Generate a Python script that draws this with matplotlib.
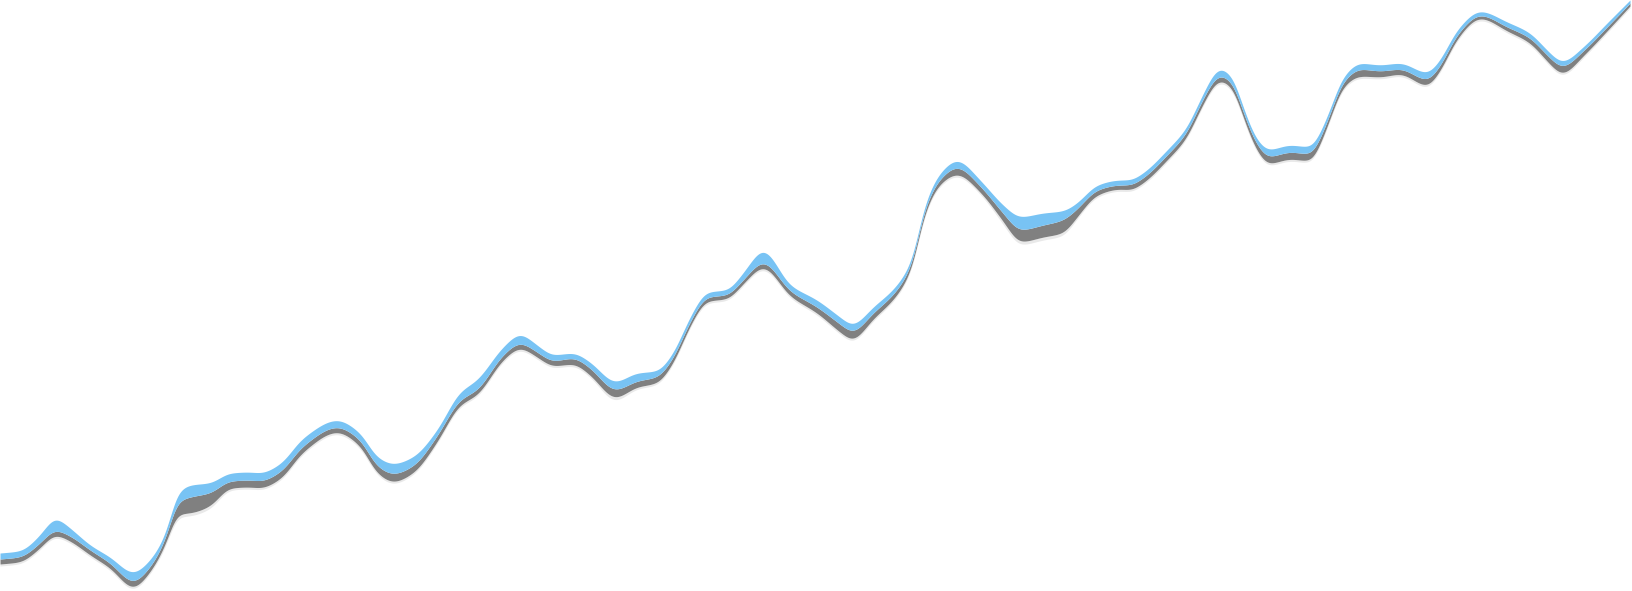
import numpy as np
import matplotlib
matplotlib.use("Agg")
import matplotlib.pyplot as plt

# Sample positions along the horizontal axis
x_pos = [0, 20, 40, 55, 70, 90, 110, 133, 150, 167, 177, 190, 210, 230, 250, 260, 280,
         303, 337, 360, 377, 393, 413, 437, 460, 477, 503, 520, 537, 553, 573, 590, 615,
         637, 657, 673, 690, 707, 727, 743, 763, 790, 817, 840, 852, 873, 897, 913, 923,
         940, 957, 980, 1003, 1020, 1043, 1063, 1077, 1097, 1120, 1130, 1143, 1167, 1187,
         1200, 1220, 1233, 1243, 1257, 1268, 1290, 1310, 1327, 1343, 1360, 1380, 1400,
         1427, 1440, 1457, 1480, 1507, 1530, 1547, 1562, 1583, 1607, 1630]

# Total (top of the stack) value at each position
total = [38, 40, 56, 73, 63, 46, 34, 18, 31, 61, 98, 106, 108, 118, 119, 118, 127,
         153, 171, 158, 134, 127, 134, 161, 199, 211, 244, 257, 246, 236, 238, 229, 209,
         218, 220, 238, 274, 299, 301, 318, 341, 306, 291, 274, 266, 284, 306, 334, 381,
         418, 431, 411, 386, 374, 378, 380, 388, 406, 411, 411, 418, 441, 464,
         491, 523, 513, 484, 451, 441, 446, 444, 474, 514, 528, 526, 528,
         518, 531, 561, 580, 569, 558, 541, 529, 544, 568, 591]

# Layer values (top to bottom): blue, grey, light grey
blue = [6, 6, 8, 12, 8, 5, 6, 9, 7, 5, 9, 12, 10, 8, 8, 8, 8,
        8, 7, 7, 9, 10, 9, 6, 8, 10, 8, 9, 7, 6, 5, 6, 8,
        8, 6, 5, 5, 5, 5, 7, 12, 6, 7, 7, 7, 6, 5, 4, 4,
        6, 7, 6, 8, 13, 12, 9, 6, 5, 5, 5, 5, 5, 5,
        5, 7, 6, 5, 5, 7, 7, 7, 5, 5, 6, 6, 6,
        7, 6, 5, 4, 5, 5, 5, 5, 4, 4, 3]
grey = [5, 5, 5, 5, 5, 5, 5, 6, 5, 6, 12, 16, 13, 7, 7, 7, 7,
        6, 5, 6, 7, 8, 7, 6, 5, 5, 5, 5, 5, 5, 6, 7, 8,
        6, 6, 5, 4, 4, 4, 4, 5, 5, 6, 8, 8, 6, 5, 4, 4,
        5, 7, 6, 8, 12, 12, 13, 8, 5, 4, 5, 5, 5, 5,
        5, 5, 5, 5, 6, 7, 7, 7, 5, 5, 7, 6, 5,
        6, 5, 4, 3, 4, 5, 6, 7, 5, 4, 3]
light = [2, 2, 2, 2, 2, 2, 2, 2, 2, 3, 3, 3, 3, 2, 2, 2, 2,
         2, 2, 2, 2, 2, 2, 2, 2, 2, 2, 2, 2, 2, 2, 2, 3,
         2, 2, 2, 2, 2, 2, 2, 2, 2, 2, 2, 2, 2, 2, 2, 2,
         2, 2, 2, 3, 3, 3, 3, 2, 2, 2, 2, 2, 2, 2,
         2, 2, 2, 2, 2, 2, 2, 2, 2, 2, 2, 2, 2,
         2, 2, 2, 2, 2, 2, 2, 2, 2, 2, 2]

colors = ["#e9e9e9", "#808080", "#78c3f4"]


def monotone(xs, ys, xq):
    xs = np.asarray(xs, float)
    ys = np.asarray(ys, float)
    h = np.diff(xs)
    d = np.diff(ys) / h
    m = np.zeros_like(ys)
    m[0], m[-1] = d[0], d[-1]
    for i in range(1, len(ys) - 1):
        if d[i - 1] * d[i] <= 0:
            m[i] = 0.0
        else:
            w1 = 2 * h[i] + h[i - 1]
            w2 = h[i] + 2 * h[i - 1]
            m[i] = (w1 + w2) / (w1 / d[i - 1] + w2 / d[i])
    idx = np.clip(np.searchsorted(xs, xq) - 1, 0, len(xs) - 2)
    t = (xq - xs[idx]) / h[idx]
    h00 = 2 * t**3 - 3 * t**2 + 1
    h10 = t**3 - 2 * t**2 + t
    h01 = -2 * t**3 + 3 * t**2
    h11 = t**3 - t**2
    return (h00 * ys[idx] + h10 * h[idx] * m[idx] + h01 * ys[idx + 1]
            + h11 * h[idx] * m[idx + 1])


def soften(y, sigma_px):
    # light rendering smoothing of the dense curve (1 sample per px)
    k = np.arange(-4 * sigma_px, 4 * sigma_px + 1)
    w = np.exp(-0.5 * (k / sigma_px) ** 2)
    w /= w.sum()
    pad = len(k) // 2
    # linear extrapolation padding keeps the ends on track
    left = y[0] - (y[1] - y[0]) * np.arange(pad, 0, -1)
    right = y[-1] + (y[-1] - y[-2]) * np.arange(1, pad + 1)
    yp = np.concatenate([left, y, right])
    return np.convolve(yp, w, mode="valid")


tot = np.array(total, float)
b = np.array(blue, float)
g = np.array(grey, float)
l = np.array(light, float)
bounds = [tot - b - g - l, tot - b - g, tot - b, tot]

xq = np.arange(x_pos[0], x_pos[-1] + 0.5, 1.0)
sm = [soften(monotone(x_pos, bd, xq), 5) for bd in bounds]

fig = plt.figure(figsize=(16.32, 5.91), dpi=100)
ax = fig.add_axes([0, 0, 1, 1])
for i, c in enumerate(colors):
    ax.fill_between(xq, sm[i], sm[i + 1], color=c, linewidth=0, antialiased=False)
ax.set_xlim(0, 1632)
ax.set_ylim(0, 591)
ax.axis("off")
fig.savefig("out.png", dpi=100, facecolor="white")
